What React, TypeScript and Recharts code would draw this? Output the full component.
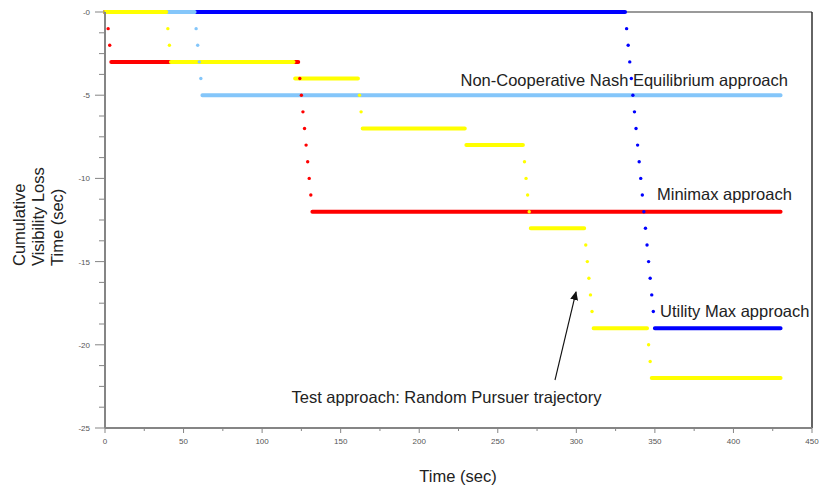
import { ComposedChart, Line, Scatter, XAxis, YAxis, ReferenceLine } from "recharts";

// axis ticks
const xTicks = [0, 50, 100, 150, 200, 250, 300, 350, 400, 450];
const xMinorTicks = [25, 75, 125, 175, 225, 275, 325, 375, 425];
const yTicks = [-25, -20, -15, -10, -5, 0];
const yMinorTicks = [
  -23.75, -22.5, -21.25, -18.75, -17.5, -16.25, -13.75, -12.5, -11.25, -8.75,
  -7.5, -6.25, -3.75, -2.5, -1.25,
];

// plateaus: [from sec, to sec, cumulative loss]
type Step = [number, number, number];
// single samples while the loss is climbing: [sec, cumulative loss]
type Drop = [number, number];

const utilitySteps: Step[] = [
  [0, 331, 0],
  [350, 430, -19],
];
const utilityDrops: Drop[] = [
  [332, -1], [333, -2], [334, -3], [335, -4], [336, -5], [337, -6],
  [338, -7], [339, -8], [340, -9], [341, -10], [342, -11], [343, -12],
  [344, -13], [345, -14], [346, -15], [347, -16], [348, -17], [349, -18],
];

const nashSteps: Step[] = [
  [0, 57, 0],
  [62, 430, -5],
];
const nashDrops: Drop[] = [
  [58, -1], [59, -2], [60, -3], [61, -4],
];

const minimaxSteps: Step[] = [
  [0, 1, 0],
  [4, 123, -3],
  [132, 430, -12],
];
const minimaxDrops: Drop[] = [
  [2, -1], [3, -2], [124, -4], [125, -5], [126, -6], [127, -7],
  [128, -8], [129, -9], [130, -10], [131, -11],
];

const randomSteps: Step[] = [
  [0, 39, 0],
  [42, 120, -3],
  [121, 161, -4],
  [164, 229, -7],
  [230, 266, -8],
  [271, 305, -13],
  [311, 345, -19],
  [348, 430, -22],
];
const randomDrops: Drop[] = [
  [40, -1], [41, -2], [162, -5], [163, -6], [267, -9], [268, -10],
  [269, -11], [270, -12], [306, -14], [307, -15], [308, -16], [309, -17],
  [310, -18], [346, -20], [347, -21],
];

const toSegments = (steps: Step[]) =>
  steps.flatMap(([from, to, level]) => [
    { x: from, y: level },
    { x: to, y: level },
    { x: to, y: null },
  ]);

const toDots = (drops: Drop[]) => drops.map(([x, y]) => ({ x, y }));

const series = [
  { name: "Utility Max approach", color: "#0000ff", steps: utilitySteps, drops: utilityDrops },
  { name: "Non-Cooperative Nash Equilibrium approach", color: "#84c6fa", steps: nashSteps, drops: nashDrops },
  { name: "Minimax approach", color: "#ff0000", steps: minimaxSteps, drops: minimaxDrops },
  { name: "Test approach: Random Pursuer trajectory", color: "#ffff00", steps: randomSteps, drops: randomDrops },
];

const font = '"Liberation Sans", Arial, sans-serif';
const axisGray = "#858585";

// tick line + label drawn together so major and minor ticks can differ
const XTick = (props: any) => {
  const { x, y, payload } = props;
  const major = xTicks.includes(payload.value);
  return (
    <g>
      <line x1={x} x2={x} y1={y} y2={y + (major ? 5 : 3)} stroke={axisGray} />
      {major && (
        <text x={x} y={y + 16} textAnchor="middle" fontSize={8} fill="#555" fontFamily={font}>
          {payload.value}
        </text>
      )}
    </g>
  );
};

const YTick = (props: any) => {
  const { x, y, payload } = props;
  const major = yTicks.includes(payload.value);
  return (
    <g>
      <line x1={x - (major ? 10 : 6)} x2={x} y1={y} y2={y} stroke={axisGray} />
      {major && (
        <text x={x - 15} y={y + 3} textAnchor="end" fontSize={8} fill="#555" fontFamily={font}>
          {payload.value === 0 ? "-0" : payload.value}
        </text>
      )}
    </g>
  );
};

const App = () => {
  return (
    <div
      style={{
        position: "absolute",
        left: 0,
        top: 0,
        width: 820,
        height: 488,
        background: "#fff",
      }}
    >
      <ComposedChart
        width={820}
        height={488}
        margin={{ top: 12, right: 8, bottom: 0, left: 0 }}
      >
        <XAxis
          dataKey="x"
          type="number"
          domain={[0, 450]}
          ticks={[...xTicks, ...xMinorTicks].sort((a, b) => a - b)}
          interval={0}
          height={60}
          tickSize={0}
          tickMargin={0}
          tickLine={false}
          tick={<XTick />}
          axisLine={{ stroke: axisGray, strokeWidth: 2 }}
        />
        <YAxis
          dataKey="y"
          type="number"
          domain={[-25, 0]}
          ticks={[...yTicks, ...yMinorTicks].sort((a, b) => a - b)}
          interval={0}
          width={105}
          tickSize={0}
          tickMargin={0}
          tickLine={false}
          tick={<YTick />}
          axisLine={{ stroke: axisGray, strokeWidth: 2 }}
        />
        <ReferenceLine y={0} stroke="#9a9a9a" strokeWidth={2} />
        <ReferenceLine x={450} stroke="#111" strokeWidth={1.3} />

        {series.map((s) => (
          <Line
            key={`line-${s.name}`}
            data={toSegments(s.steps)}
            dataKey="y"
            type="linear"
            stroke={s.color}
            strokeWidth={4}
            strokeLinecap="round"
            dot={false}
            activeDot={false}
            connectNulls={false}
            isAnimationActive={false}
          />
        ))}
        {series.map((s) => (
          <Scatter
            key={`dots-${s.name}`}
            data={toDots(s.drops)}
            dataKey="y"
            fill={s.color}
            isAnimationActive={false}
            shape={(p: any) => (
              <circle cx={p.cx} cy={p.cy} r={1.7} fill={s.color} />
            )}
          />
        ))}
      </ComposedChart>

      {/* titles and annotations */}
      <svg
        width={820}
        height={488}
        style={{ position: "absolute", left: 0, top: 0, pointerEvents: "none" }}
        fontFamily={font}
        fontSize={16.5}
        fill="#222"
      >
        <text x={460.5} y={86}>Non-Cooperative Nash Equilibrium approach</text>
        <text x={657} y={200}>Minimax approach</text>
        <text x={660} y={317}>Utility Max approach</text>
        <text x={291.5} y={403}>Test approach: Random Pursuer trajectory</text>
        <text x={458} y={482} textAnchor="middle">Time (sec)</text>
        <g transform="rotate(-90)">
          <text x={-266} y={25}>Cumulative</text>
          <text x={-266} y={44}>Visibility Loss</text>
          <text x={-266} y={63}>Time (sec)</text>
        </g>
        <defs>
          <marker id="head" markerWidth="10" markerHeight="10" refX="8" refY="4" orient="auto" markerUnits="userSpaceOnUse">
            <path d="M0,0 L9,4 L0,8 z" fill="#111" />
          </marker>
        </defs>
        <line x1={555} y1={380} x2={576} y2={292} stroke="#111" strokeWidth={1.1} markerEnd="url(#head)" />
      </svg>
    </div>
  );
};

export default App;
